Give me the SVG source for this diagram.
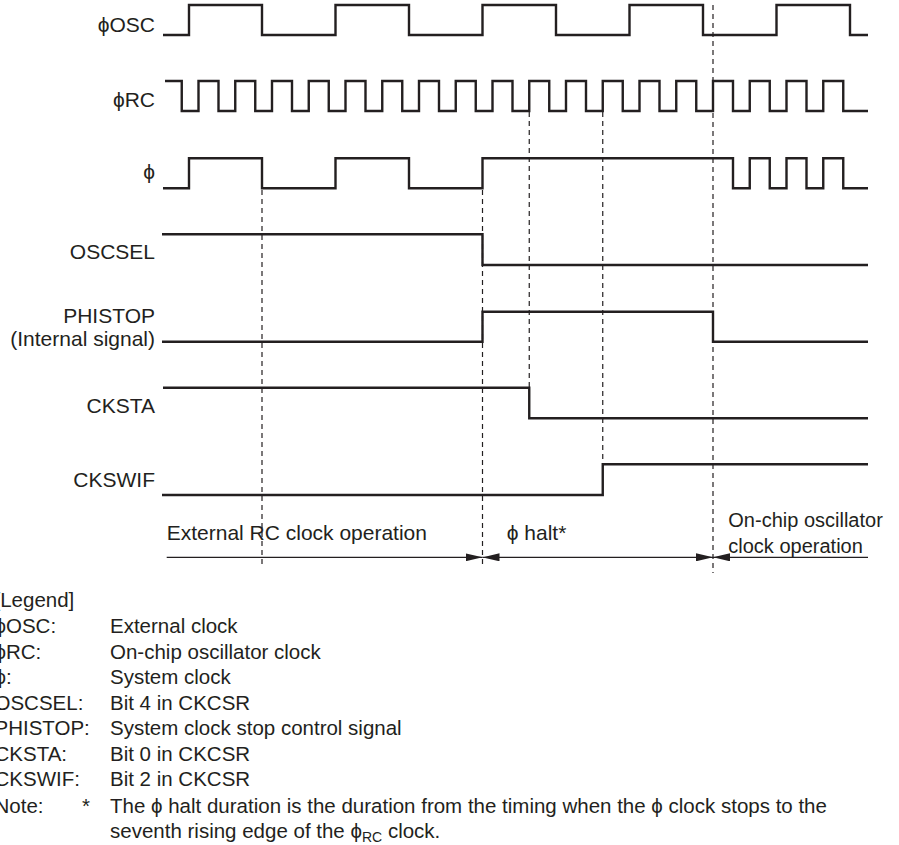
<svg xmlns="http://www.w3.org/2000/svg" width="899" height="845" viewBox="0 0 899 845">
<style>
  .wave { fill: none; stroke: #231f20; stroke-width: 2.4; stroke-linejoin: miter; stroke-linecap: butt; }
  .dash { fill: none; stroke: #231f20; stroke-width: 1.2; stroke-dasharray: 5 4; }
  .dim { fill: none; stroke: #231f20; stroke-width: 1.3; }
  text { font-family: "Liberation Sans", Arial, Helvetica, sans-serif; font-size: 20px; fill: #231f20; }
  .lbl { text-anchor: end; font-size: 21px; }
  .big { font-size: 21px; }
  .leg { font-size: 20.5px; }
</style>
<defs>
  <marker id="ah" markerUnits="userSpaceOnUse" markerWidth="17" markerHeight="8" refX="17" refY="4" orient="auto-start-reverse" viewBox="0 0 17 8">
    <path d="M0,0 L17,4 L0,8 Z" fill="#231f20"/>
  </marker>
</defs>

<g id="sig-phiosc">
  <text class="lbl" x="155" y="31.5">ϕOSC</text>
  <path class="wave" d="M163,35 H189 V5 H262 V35 H335.5 V5 H409 V35 H482.5 V5 H556 V35 H629.5 V5 H703 V35 H776.5 V5 H850 V35 H868"/>
</g>
<g id="sig-phirc">
  <text class="lbl" x="155" y="106.5">ϕRC</text>
  <path class="wave" d="M165,81 H181.75 V111 H198.5 V81 H218.5 V111 H235.25 V81 H255.25 V111 H272 V81 H292 V111 H308.75 V81 H328.75 V111 H345.5 V81 H365.5 V111 H382.25 V81 H402.25 V111 H419 V81 H439 V111 H455.75 V81 H475.75 V111 H492.5 V81 H512.5 V111 H529.25 V81 H549.25 V111 H566 V81 H586 V111 H602.75 V81 H622.75 V111 H639.5 V81 H659.5 V111 H676.25 V81 H696.25 V111 H713 V81 H733 V111 H749.75 V81 H769.75 V111 H786.5 V81 H806.5 V111 H823.25 V81 H843.25 V111 H868"/>
</g>
<g id="sig-phi">
  <text class="lbl" x="155" y="178.5">ϕ</text>
  <path class="wave" d="M163,188.3 H189 V158.3 H262 V188.3 H335.5 V158.3 H409 V188.3 H482.5 V158.3 H733 V188.3 H749.75 V158.3 H769.75 V188.3 H786.5 V158.3 H806.5 V188.3 H823.25 V158.3 H843.25 V188.3 H868"/>
</g>
<g id="sig-oscsel">
  <text class="lbl" x="155" y="259.3">OSCSEL</text>
  <path class="wave" d="M162,234.3 H482.5 V265 H868"/>
</g>
<g id="sig-phistop">
  <text class="lbl" x="155" y="323.3">PHISTOP</text>
  <text class="lbl" x="155" y="345.5">(Internal signal)</text>
  <path class="wave" d="M162,341.7 H482.5 V311.7 H713 V341.7 H868"/>
</g>
<g id="sig-cksta">
  <text class="lbl" x="155" y="412.7">CKSTA</text>
  <path class="wave" d="M163,387.7 H529.25 V418.3 H868"/>
</g>
<g id="sig-ckswif">
  <text class="lbl" x="155" y="486.7">CKSWIF</text>
  <path class="wave" d="M162,495 H602.75 V464.3 H868"/>
</g>

<g id="connectors">
  <line class="dash" x1="262" y1="190" x2="262" y2="567"/>
  <line class="dash" x1="482.5" y1="190" x2="482.5" y2="568"/>
  <line class="dash" x1="529.25" y1="112" x2="529.25" y2="388"/>
  <line class="dash" x1="602.75" y1="112" x2="602.75" y2="464"/>
  <line class="dash" x1="713" y1="5" x2="713" y2="573"/>
  <line class="dim" x1="166.7" y1="557.3" x2="482.5" y2="557.3" marker-end="url(#ah)"/>
  <line class="dim" x1="482.5" y1="557.3" x2="713" y2="557.3" marker-start="url(#ah)" marker-end="url(#ah)"/>
  <line class="dim" x1="713" y1="557.3" x2="868" y2="557.3" marker-start="url(#ah)"/>
</g>

<g id="phase-labels">
  <text class="big" x="166.7" y="540">External RC clock operation</text>
  <text class="big" x="506.7" y="540">ϕ halt*</text>
  <text x="728.3" y="526.7">On-chip oscillator</text>
  <text x="728.3" y="552.7">clock operation</text>
</g>

<g id="legend" class="leg">
  <text class="leg" x="-5.5" y="607">[Legend]</text>
  <text class="leg" x="-5.5" y="633">ϕOSC:</text>
  <text class="leg" x="110" y="633">External clock</text>
  <text class="leg" x="-5.5" y="658.5">ϕRC:</text>
  <text class="leg" x="110" y="658.5">On-chip oscillator clock</text>
  <text class="leg" x="-5.5" y="684">ϕ:</text>
  <text class="leg" x="110" y="684">System clock</text>
  <text class="leg" x="-5.5" y="709.5">OSCSEL:</text>
  <text class="leg" x="110" y="709.5">Bit 4 in CKCSR</text>
  <text class="leg" x="-5.5" y="735">PHISTOP:</text>
  <text class="leg" x="110" y="735">System clock stop control signal</text>
  <text class="leg" x="-5.5" y="760.5">CKSTA:</text>
  <text class="leg" x="110" y="760.5">Bit 0 in CKCSR</text>
  <text class="leg" x="-5.5" y="786">CKSWIF:</text>
  <text class="leg" x="110" y="786">Bit 2 in CKCSR</text>
  <text class="leg" x="-5.5" y="812.5">Note:</text>
  <text class="leg" x="82" y="812.5">*</text>
  <text class="leg" x="110" y="812.5">The ϕ halt duration is the duration from the timing when the ϕ clock stops to the</text>
  <text class="leg" x="110" y="838">seventh rising edge of the ϕ<tspan font-size="14" dy="4">RC</tspan><tspan dy="-4"> clock.</tspan></text>
</g>
</svg>
